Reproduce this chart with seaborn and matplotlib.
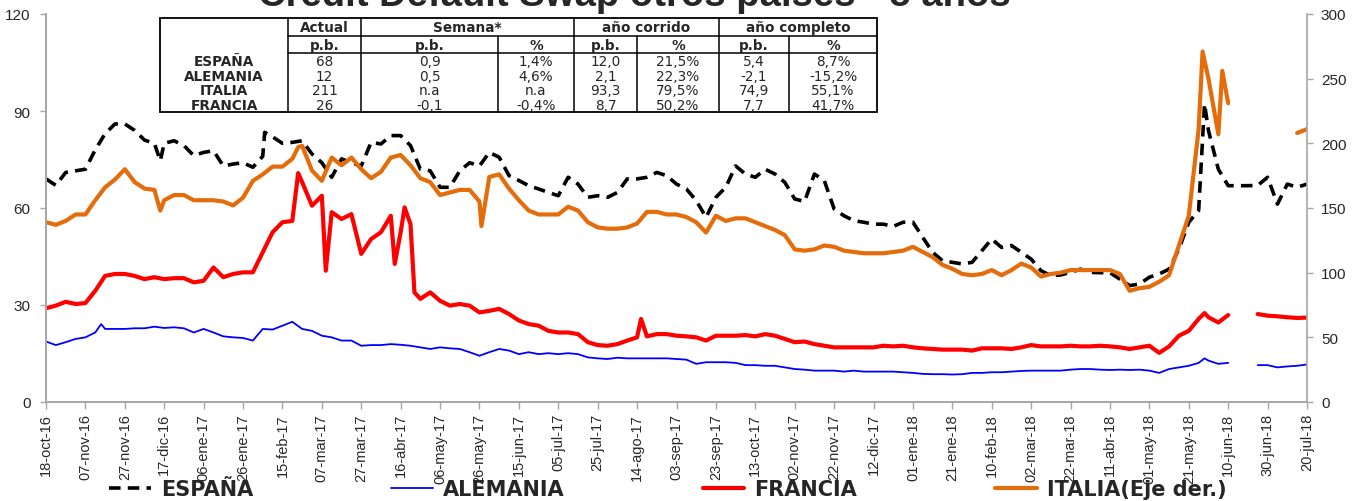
import numpy as np
import pandas as pd
import matplotlib
matplotlib.use('Agg')
import matplotlib.pyplot as plt
from matplotlib.lines import Line2D
import seaborn as sns

# CDS 5 años, p.b. (Italia en eje derecho)
inicio = pd.Timestamp('2016-10-18')
dias = list(range(0, 641, 5))

espana = [69, 67, 71, 71.5, 72, 78, 83, 86,
          86, 84, 81, 80, 80, 80.8, 79.3, 76.2,
          77.2, 77.7, 73, 73.6, 74, 72.6, 76, 82,
          80, 80.3, 80.8, 76.7, 74, 69.5, 75.2, 74,
          73, 80.3, 79.8, 82.4, 82.4, 79.3, 72, 71.5,
          66.4, 66.4, 71.5, 74, 73, 77.2, 75.7, 70,
          68.5, 66.9, 65.9, 64.8, 63.8, 69.5, 67.4, 63.3,
          63.8, 63.3, 64.8, 69, 69, 69.5, 71, 70,
          67.4, 65.9, 62.3, 57.1, 63.3, 66.4, 73, 70.5,
          69.5, 72, 70.5, 67.9, 62.8, 62, 70.5, 68.5,
          59.7, 57.6, 56.1, 55.6, 55, 55, 54.3, 55.6,
          55.6, 50.9, 46.3, 43.7, 43.2, 42.7, 43.2, 46.8,
          50.4, 47.8, 48.4, 46.3, 44.2, 40.6, 39.1, 39.3,
          40.1, 41.1, 40.1, 40, 40, 38, 36, 36.5,
          38.6, 39.6, 41.1, 47.3, 55.6, 59.2, 83.9, 72,
          66.9, 66.9, 66.9, 67, 69.5, 61.2, 67.4, 66.4,
          67.4]
espana_picos = {58: 74.6, 111: 83.4, 588: 92.2}

alemania = [18.7, 17.6, 18.5, 19.5, 20, 21.5, 22.6, 22.6,
            22.6, 22.8, 22.8, 23.3, 22.9, 23.1, 22.8, 21.5,
            22.6, 21.5, 20.3, 20, 19.8, 19, 22.6, 22.4,
            23.6, 24.8, 22.6, 22, 20.5, 20, 19, 19,
            17.4, 17.6, 17.6, 17.9, 17.7, 17.4, 16.9, 16.4,
            16.9, 16.6, 16.4, 15.4, 14.3, 15.4, 16.4, 15.9,
            14.8, 15.4, 14.8, 15.1, 14.8, 15.1, 14.8, 13.8,
            13.5, 13.3, 13.7, 13.5, 13.5, 13.5, 13.5, 13.5,
            13.3, 13.1, 11.8, 12.3, 12.3, 12.3, 12.1, 11.4,
            11.4, 11.2, 11.2, 10.7, 10.2, 10.0, 9.7, 9.7,
            9.7, 9.4, 9.7, 9.4, 9.4, 9.4, 9.4, 9.2,
            9.0, 8.7, 8.6, 8.6, 8.5, 8.6, 9.0, 9.0,
            9.2, 9.2, 9.4, 9.6, 9.7, 9.7, 9.7, 9.7,
            10, 10.2, 10.2, 10, 9.9, 10, 9.9, 10,
            9.7, 9.0, 10.2, 10.7, 11.2, 12.1, 12.8, 11.8,
            12.1, np.nan, np.nan, 11.4, 11.4, 10.7, 11, 11.2,
            11.6]
alemania_picos = {28: 24.1, 588: 13.5}

francia = [29, 29.8, 31, 30.3, 30.6, 34.4, 39, 39.6,
           39.6, 39, 38, 38.6, 38, 38.3, 38.3, 37,
           37.5, 41.6, 38.6, 39.6, 40.1, 40.1, 46.3, 52.5,
           55.6, 56, 68, 60.7, 63.8, 58.7, 56.6, 58.1,
           45.8, 50.4, 52.5, 57.6, 52.5, 55, 31.9, 33.9,
           31.3, 29.8, 30.3, 29.8, 27.7, 28.2, 28.8, 27.2,
           25.2, 24.1, 23.6, 22, 21.5, 21.5, 21, 18.5,
           17.6, 17.4, 17.9, 19, 20, 20.3, 21, 21,
           20.5, 20.3, 20, 19, 20.5, 20.5, 20.5, 20.7,
           20.3, 21, 20.5, 19.5, 18.5, 18.7, 17.9, 17.4,
           16.9, 16.9, 16.9, 16.9, 16.9, 17.4, 17.2, 17.4,
           16.9, 16.6, 16.4, 16.2, 16.2, 16.2, 15.9, 16.6,
           16.6, 16.6, 16.4, 16.9, 17.6, 17.2, 17.2, 17.2,
           17.4, 17.2, 17.2, 17.4, 17.2, 16.9, 16.4, 16.9,
           17.4, 15.2, 17.2, 20.5, 22, 25.7, 26.2, 24.6,
           26.9, np.nan, np.nan, 27.2, 26.7, 26.5, 26.2, 26,
           26.1]
francia_picos = {128: 70.8, 142: 40.6, 177: 42.7, 182: 60.2, 187: 33.9,
                 302: 25.7, 588: 27.5}

italia = [139, 137, 140, 145, 145, 156, 166, 172,
          180, 170, 165, 164, 156, 160, 160, 156,
          156, 156, 155, 152, 158, 171, 176, 182,
          182, 188, 198, 179, 171, 189, 183, 189,
          180, 173, 178, 189, 191, 183, 173, 170,
          160, 162, 164, 164, 155, 174, 176, 165,
          156, 148, 145, 145, 145, 151, 148, 139,
          135, 134, 134, 135, 138, 147, 147, 145,
          145, 143, 139, 131, 144, 140, 142, 142,
          139, 136, 133, 129, 118, 117, 118, 121,
          120, 117, 116, 115, 115, 115, 116, 117,
          120, 116, 112, 106, 103, 99, 98, 99,
          102, 98, 102, 107, 104, 97, 99, 100,
          102, 102, 102, 102, 102, 99, 86, 88,
          89, 93, 98, 121, 144, 211, 250, 207,
          231, np.nan, np.nan, np.nan, np.nan, np.nan, np.nan, 208,
          211]
italia_picos = {58: 148, 128: 197, 221: 136, 587: 271, 597: 256}

# tabla
filas = ['ESPAÑA', 'ALEMANIA', 'ITALIA', 'FRANCIA']
actual = ['68', '12', '211', '26']
semana_pb = ['0,9', '0,5', 'n.a', '-0,1']
semana_pct = ['1,4%', '4,6%', 'n.a', '-0,4%']
corrido_pb = ['12,0', '2,1', '93,3', '8,7']
corrido_pct = ['21,5%', '22,3%', '79,5%', '50,2%']
completo_pb = ['5,4', '-2,1', '74,9', '7,7']
completo_pct = ['8,7%', '-15,2%', '55,1%', '41,7%']

meses = ['ene', 'feb', 'mar', 'abr', 'may', 'jun', 'jul', 'ago', 'sep', 'oct', 'nov', 'dic']


def serie(vals, picos):
    s = pd.Series(vals, index=dias, dtype=float)
    for d, v in picos.items():
        s.loc[d] = v
    s = s.sort_index()
    df = pd.DataFrame({'fecha': inicio + pd.to_timedelta(s.index, unit='D'),
                       'valor': s.values})
    df['tramo'] = df['valor'].isna().cumsum()
    return df.dropna()


sns.set_style('white')
plt.rcParams['font.family'] = ['Liberation Sans', 'DejaVu Sans']

W, H = 1358, 502
fig = plt.figure(figsize=(W / 100, H / 100), dpi=100)
ax = fig.add_axes([46 / W, 1 - 403 / H, (1307 - 46) / W, (403 - 15) / H])
ax2 = ax.twinx()

c_esp, c_ale, c_fra, c_ita = 'black', '#0000FF', '#FF0000', '#E46C0A'
dash = (0, (3.2, 2.0))

sns.lineplot(data=serie(alemania, alemania_picos), x='fecha', y='valor', units='tramo',
             estimator=None, ax=ax, color=c_ale, lw=1.3)
sns.lineplot(data=serie(francia, francia_picos), x='fecha', y='valor', units='tramo',
             estimator=None, ax=ax, color=c_fra, lw=3)
sns.lineplot(data=serie(espana, espana_picos), x='fecha', y='valor', units='tramo',
             estimator=None, ax=ax, color=c_esp, lw=2.6, linestyle=dash)
sns.lineplot(data=serie(italia, italia_picos), x='fecha', y='valor', units='tramo',
             estimator=None, ax=ax2, color=c_ita, lw=3)

ax.set_ylim(0, 120)
ax.set_yticks(range(0, 121, 30))
ax2.set_ylim(0, 300)
ax2.set_yticks(range(0, 301, 50))

ticks = pd.date_range(inicio, periods=33, freq='20D')
ax.set_xticks(ticks)
ax.set_xticklabels([f"{d.day:02d}-{meses[d.month - 1]}-{d:%y}" for d in ticks],
                   rotation=90, fontsize=10.5)
ax.set_xlim(inicio, inicio + pd.Timedelta(days=640))
for a in (ax, ax2):
    a.set_xlabel('')
    a.set_ylabel('')
    a.spines['top'].set_visible(False)
    for sp in ('left', 'right', 'bottom'):
        a.spines[sp].set_color('#a6a6a6')
        a.spines[sp].set_linewidth(1.2)
ax.spines['right'].set_visible(False)
ax.tick_params(axis='y', direction='out', length=4, width=1, color='#a6a6a6',
               labelsize=11, pad=7, left=True)
ax.tick_params(axis='x', direction='out', length=5, width=1, color='#a6a6a6', pad=3,
               bottom=True)
ax2.tick_params(axis='y', direction='out', length=4, width=1, color='#a6a6a6',
                labelsize=11, pad=6, right=True)

# titulo (cortado por arriba, como en el original)
fig.text(634 / W, 1 - 6 / H, 'Credit Default Swap otros países - 5 años',
         ha='center', va='baseline', fontsize=27.5, fontweight='bold')


# tabla resumen
def fx(x):
    return x / W


def fy(y):
    return 1 - y / H


def linea(x0, y0, x1, y1):
    fig.add_artist(Line2D([fx(x0), fx(x1)], [fy(y0), fy(y1)], color='black', lw=1.1,
                          transform=fig.transFigure))


tx0, tx1, ty0, ty1 = 160, 877, 19, 113
fig.add_artist(plt.Rectangle((fx(tx0), fy(ty1)), fx(tx1) - fx(tx0), fy(ty0) - fy(ty1),
                             transform=fig.transFigure, facecolor='white',
                             edgecolor='black', lw=1.3))
col = [160, 288, 361, 498, 574, 637, 719, 789, 877]
y_h1, y_h2 = 37, 54
for x in (288, 361, 574, 719):
    linea(x, ty0, x, ty1)
for x in (498, 637, 789):
    linea(x, y_h1, x, ty1)
linea(288, y_h1, tx1, y_h1)
linea(288, y_h2, tx1, y_h2)

bold = dict(family='DejaVu Sans', weight='bold', size=9.8)
normal = dict(family='DejaVu Sans', size=9.8)
grupos = [('Actual', 288, 361), ('Semana*', 361, 574),
          ('año corrido', 574, 719), ('año completo', 719, 877)]
for txt, a, b in grupos:
    fig.text(fx((a + b) / 2), fy((ty0 + y_h1) / 2 + 0.5), txt, ha='center', va='center',
             fontdict=bold)
subs = ['p.b.', 'p.b.', '%', 'p.b.', '%', 'p.b.', '%']
for i, txt in enumerate(subs):
    fig.text(fx((col[i + 1] + col[i + 2]) / 2), fy((y_h1 + y_h2) / 2 + 0.5), txt,
             ha='center', va='center', fontdict=bold)
columnas = [actual, semana_pb, semana_pct, corrido_pb, corrido_pct, completo_pb, completo_pct]
alto = (ty1 - y_h2) / 4
for r, nombre in enumerate(filas):
    yc = y_h2 + alto * (r + 0.5) + 0.5
    fig.text(fx((col[0] + col[1]) / 2), fy(yc), nombre, ha='center', va='center',
             fontdict=bold)
    for i, valores in enumerate(columnas):
        fig.text(fx((col[i + 1] + col[i + 2]) / 2), fy(yc), valores[r],
                 ha='center', va='center', fontdict=normal)

# leyenda
handles = [Line2D([], [], color=c_esp, lw=2.6, linestyle=dash),
           Line2D([], [], color=c_ale, lw=1.3),
           Line2D([], [], color=c_fra, lw=3),
           Line2D([], [], color=c_ita, lw=3)]
labels = ['ESPAÑA', 'ALEMANIA', 'FRANCIA', 'ITALIA(Eje der.)']
fig.legend(handles, labels, loc='center', bbox_to_anchor=(668 / W, 1 - 490 / H), ncol=4,
           frameon=False, columnspacing=6.6, handlelength=2.0, handletextpad=0.5,
           borderpad=0, prop=dict(family='DejaVu Sans', weight='bold', size=15))

fig.savefig('out.png', dpi=100)
